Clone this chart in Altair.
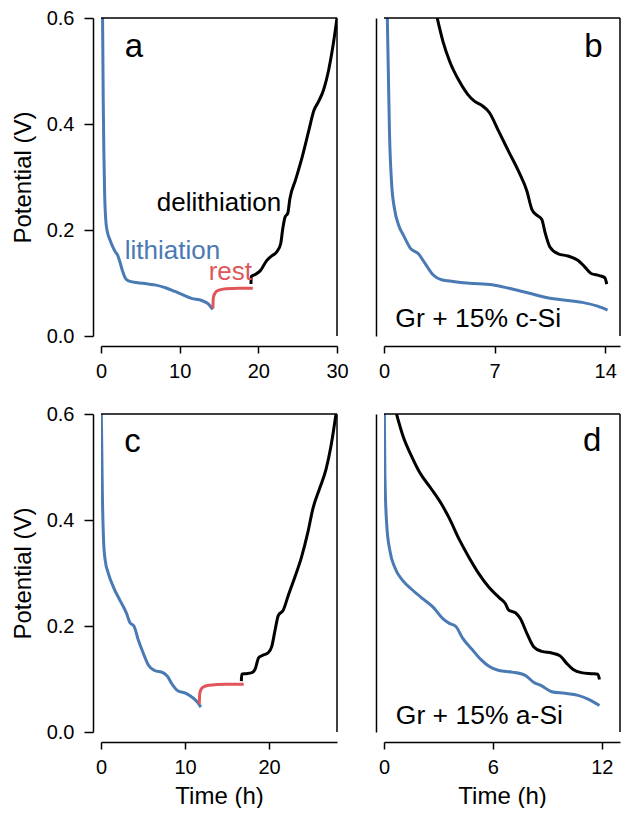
import altair as alt
import pandas as pd

FONT = "Liberation Sans"
BLUE = "#4a7ab4"
RED = "#e0565a"
BLACK = "#000000"

# ---------------- Panel a (Gr + 15% c-Si, full cycle vs time) ----------------
a_lith_t = [0.2, 0.28, 0.36, 0.46, 0.6, 0.8, 1.1, 1.5, 1.85, 2.1, 2.4, 2.75, 3.1, 3.5, 4.5, 5.8, 7.0, 8.2, 9.4, 10.5, 11.5, 12.8, 13.6, 14.2]
a_lith_v = [0.6, 0.45, 0.35, 0.27, 0.22, 0.197, 0.183, 0.168, 0.158, 0.153, 0.14, 0.122, 0.109, 0.104, 0.101, 0.0985, 0.096, 0.091, 0.084, 0.077, 0.071, 0.067, 0.061, 0.050]
a_rest_t = [14.22, 14.28, 14.5, 14.9, 15.9, 17.6, 19.3]
a_rest_v = [0.052, 0.072, 0.081, 0.086, 0.089, 0.090, 0.090]
a_deli_t = [19.06, 19.1, 19.6, 20.3, 20.95, 21.6, 22.4, 22.84, 23.1, 23.39, 23.75, 24.0, 24.74, 25.58, 26.42, 27.05, 27.68, 28.31, 28.94, 29.57, 30.0]
a_deli_v = [0.098, 0.112, 0.116, 0.124, 0.140, 0.150, 0.160, 0.174, 0.202, 0.224, 0.232, 0.258, 0.295, 0.338, 0.388, 0.425, 0.443, 0.465, 0.502, 0.555, 0.6]

# ---------------- Panel b ----------------
b_lith_t = [0.21, 0.27, 0.35, 0.48, 0.67, 0.94, 1.25, 1.66, 2.18, 2.6, 3.12, 3.64, 4.37, 5.41, 6.86, 7.91, 9.15, 10.61, 11.65, 12.69, 13.52, 14.15]
b_lith_v = [0.6, 0.505, 0.381, 0.289, 0.239, 0.208, 0.189, 0.166, 0.155, 0.137, 0.115, 0.106, 0.103, 0.0997, 0.0966, 0.090, 0.081, 0.0706, 0.0669, 0.0625, 0.0563, 0.049]
b_deli_t = [3.37, 3.74, 4.16, 4.78, 5.30, 5.72, 6.24, 6.66, 7.28, 7.91, 8.53, 9.05, 9.36, 9.67, 9.99, 10.19, 10.50, 11.03, 11.65, 12.27, 12.69, 13.11, 13.63, 13.98, 14.1]
b_deli_v = [0.6, 0.555, 0.518, 0.480, 0.456, 0.443, 0.434, 0.422, 0.385, 0.347, 0.310, 0.273, 0.239, 0.228, 0.220, 0.196, 0.168, 0.155, 0.151, 0.143, 0.131, 0.118, 0.114, 0.110, 0.098]

# ---------------- Panel c (Gr + 15% a-Si, full cycle vs time) ----------------
c_lith_t = [0.04, 0.16, 0.31, 0.51, 0.90, 1.49, 2.27, 3.06, 3.45, 3.92, 4.43, 5.02, 5.61, 6.39, 7.37, 7.96, 8.35, 9.14, 10.12, 10.9, 11.49, 11.88]
c_lith_v = [0.6, 0.453, 0.360, 0.323, 0.298, 0.273, 0.248, 0.223, 0.206, 0.200, 0.174, 0.149, 0.127, 0.116, 0.112, 0.104, 0.093, 0.078, 0.073, 0.065, 0.056, 0.047]
c_rest_t = [11.69, 11.76, 12.08, 12.86, 14.82, 16.98]
c_rest_v = [0.053, 0.074, 0.084, 0.088, 0.090, 0.090]
c_deli_t = [16.7, 16.74, 17.18, 17.96, 18.35, 18.75, 19.14, 19.92, 20.31, 20.71, 21.1, 21.69, 22.27, 23.06, 23.84, 24.63, 25.22, 26.0, 26.78, 27.37, 27.96]
c_deli_v = [0.096, 0.109, 0.110, 0.112, 0.119, 0.140, 0.144, 0.150, 0.161, 0.192, 0.220, 0.230, 0.257, 0.292, 0.329, 0.378, 0.422, 0.459, 0.496, 0.540, 0.6]

# ---------------- Panel d ----------------
d_lith_t = [0.02, 0.05, 0.15, 0.33, 0.6, 1.05, 1.6, 2.15, 2.69, 3.24, 3.6, 3.96, 4.33, 4.87, 5.33, 5.78, 6.33, 7.05, 7.78, 8.24, 8.69, 9.24, 9.96, 10.69, 11.24, 11.87]
d_lith_v = [0.6, 0.484, 0.391, 0.341, 0.310, 0.285, 0.267, 0.251, 0.236, 0.214, 0.205, 0.199, 0.177, 0.155, 0.137, 0.124, 0.116, 0.113, 0.107, 0.094, 0.087, 0.076, 0.073, 0.069, 0.062, 0.050]
d_deli_t = [0.69, 1.05, 1.51, 1.96, 2.6, 3.15, 3.6, 4.15, 4.69, 5.24, 5.78, 6.33, 6.69, 6.87, 7.24, 7.51, 7.87, 8.24, 8.69, 9.24, 9.69, 10.05, 10.42, 10.87, 11.42, 11.78, 11.87]
d_deli_v = [0.6, 0.558, 0.521, 0.490, 0.459, 0.431, 0.403, 0.363, 0.329, 0.298, 0.273, 0.254, 0.242, 0.230, 0.225, 0.214, 0.186, 0.161, 0.152, 0.149, 0.144, 0.130, 0.118, 0.112, 0.110, 0.109, 0.099]

# axis settings
x_domains = {"a": [0, 30], "b": [0, 14.94], "c": [0, 28.08], "d": [0, 13.0]}
x_ticks = {"a": [0, 10, 20, 30], "b": [0, 7, 14], "c": [0, 10, 20], "d": [0, 6, 12]}
y_ticks = [0.0, 0.2, 0.4, 0.6]

# text annotations: (text, t, V, color, size, align)
texts_a = [("a", 4.18, 0.527, BLACK, 33, "center"),
           ("delithiation", 15.0, 0.236, BLACK, 26, "center"),
           ("lithiation", 9.08, 0.146, BLUE, 26, "center"),
           ("rest", 16.44, 0.1056, RED, 26, "center")]
texts_b = [("b", 13.26, 0.527, BLACK, 33, "center"),
           ("Gr + 15% c-Si", 0.72, 0.017, BLACK, 26.5, "left")]
texts_c = [("c", 3.76, 0.529, BLACK, 33, "center")]
texts_d = [("d", 11.47, 0.531, BLACK, 33, "center"),
           ("Gr + 15% a-Si", 0.65, 0.0155, BLACK, 26.5, "left")]

W, H = 236, 318


def make_df(series):
    rows = []
    for name, ts, vs in series:
        for t, v in zip(ts, vs):
            rows.append({"series": name, "t": t, "V": v})
    return pd.DataFrame(rows)


def panel(key, series, texts, left, bottom):
    df = make_df(series)
    xs = alt.Scale(domain=x_domains[key], nice=False, zero=False)
    ys = alt.Scale(domain=[0, 0.6], nice=False)
    if bottom:
        xax = alt.Axis(values=x_ticks[key], title="Time (h)", format="d")
    else:
        xax = alt.Axis(values=x_ticks[key], title=None, format="d")
    if left:
        yax = alt.Axis(values=y_ticks, format=".1f", title="Potential (V)")
    else:
        yax = alt.Axis(labels=False, ticks=False, title=None)

    lines = alt.Chart(df).mark_line(strokeWidth=3, interpolate="monotone", clip=True).encode(
        x=alt.X("t:Q", scale=xs, axis=xax),
        y=alt.Y("V:Q", scale=ys, axis=yax),
        color=alt.Color("series:N", scale=alt.Scale(domain=["lithiation", "rest", "delithiation"],
                                                    range=[BLUE, RED, BLACK]), legend=None),
        detail="series:N",
    )
    frame_top = alt.Chart(alt.Data(values=[{}])).mark_rule(color="black", strokeWidth=1.5).encode(
        x=alt.value(0), x2=alt.value(W), y=alt.value(0))
    frame_right = alt.Chart(alt.Data(values=[{}])).mark_rule(color="black", strokeWidth=1.5).encode(
        x=alt.value(W), y=alt.value(0), y2=alt.value(H))
    layers = [lines, frame_top, frame_right]
    for (txt, t, v, col, size, align) in texts:
        tdf = pd.DataFrame({"t": [t], "V": [v], "label": [txt]})
        layers.append(alt.Chart(tdf).mark_text(font=FONT, fontSize=size, color=col, align=align,
                                               baseline="alphabetic").encode(
            x=alt.X("t:Q", scale=xs), y=alt.Y("V:Q", scale=ys), text="label:N"))
    return alt.layer(*layers).properties(width=W, height=H)


pa = panel("a", [("lithiation", a_lith_t, a_lith_v), ("rest", a_rest_t, a_rest_v),
                 ("delithiation", a_deli_t, a_deli_v)], texts_a, True, False)
pb = panel("b", [("lithiation", b_lith_t, b_lith_v), ("delithiation", b_deli_t, b_deli_v)],
           texts_b, False, False)
pc = panel("c", [("lithiation", c_lith_t, c_lith_v), ("rest", c_rest_t, c_rest_v),
                 ("delithiation", c_deli_t, c_deli_v)], texts_c, True, True)
pd_ = panel("d", [("lithiation", d_lith_t, d_lith_v), ("delithiation", d_deli_t, d_deli_v)],
            texts_d, False, True)

chart = alt.concat(pa, pb, pc, pd_, columns=2, spacing={"row": 78, "column": 47}, bounds="flush").properties(
    padding={"left": 3, "top": 0, "right": 0, "bottom": 0}
).configure_view(strokeWidth=0).configure_axis(
    grid=False, domainColor="black", domainWidth=1.5, tickColor="black", tickWidth=1.5,
    labelFont=FONT, labelFontSize=20, labelColor="black",
    titleFont=FONT, titleFontSize=24, titleFontWeight="normal", titleColor="black",
).configure_axisX(tickSize=7, labelPadding=8, titlePadding=7, offset=10, labelFlush=False
).configure_axisY(tickSize=9, labelPadding=10, titlePadding=11, offset=8)

chart.save("out.html", embed_options={"renderer": "svg", "actions": False})
